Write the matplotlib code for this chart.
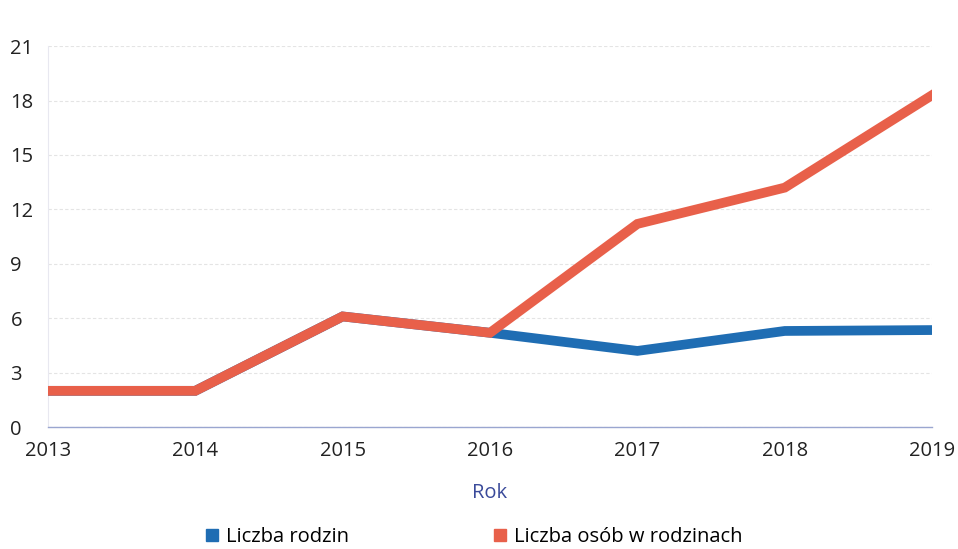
import matplotlib.pyplot as plt
from matplotlib.lines import Line2D

plt.rcParams['font.family'] = ['Open Sans', 'DejaVu Sans']

years = [2013, 2014, 2015, 2016, 2017, 2018, 2019]
rodziny = [2.0, 2.0, 6.1, 5.2, 4.2, 5.3, 5.35]
osoby = [2.0, 2.0, 6.1, 5.2, 11.2, 13.2, 18.3]
y_ticks = [0, 3, 6, 9, 12, 15, 18, 21]

blue = '#1f6db3'
red = '#e8604a'

fig = plt.figure(figsize=(9.58, 5.49), dpi=100)
ax = fig.add_axes([0.050, 0.222, 0.923, 0.694])

ax.plot(years, rodziny, color=blue, lw=7, solid_joinstyle='miter', zorder=3)
ax.plot(years, osoby, color=red, lw=7, solid_joinstyle='miter', zorder=4)

ax.set_xlim(2013, 2019)
ax.set_ylim(0, 21)
ax.set_xticks(years)
ax.set_yticks(y_ticks)
ax.grid(axis='y', color='#e4e4e4', lw=0.8, ls=(0, (3, 2)))
ax.tick_params(length=0, labelsize=14.5, colors='#222222')
ax.tick_params(axis='x', pad=10)
for lbl in ax.get_yticklabels():
    lbl.set_horizontalalignment('left')
ax.tick_params(axis='y', pad=27)
for s in ['top', 'right']:
    ax.spines[s].set_visible(False)
ax.spines['left'].set_color('#e8e8f0')
ax.spines['left'].set_linewidth(0.8)
ax.spines['bottom'].set_color('#9aa6d0')
ax.spines['bottom'].set_linewidth(1.0)

ax.set_xlabel('Rok', fontsize=14.5, color='#3a4a9a', labelpad=16)

handles = [
    Line2D([], [], marker='s', ls='none', color=blue, markersize=9),
    Line2D([], [], marker='s', ls='none', color=red, markersize=9),
]
fig.legend(handles, ['Liczba rodzin', 'Liczba osób w rodzinach'],
           loc='center', bbox_to_anchor=(0.493, 0.022), ncol=2,
           frameon=False, fontsize=14.5, columnspacing=7.0,
           handletextpad=0.2, handlelength=1.0)

fig.savefig('out.png', dpi=100)
